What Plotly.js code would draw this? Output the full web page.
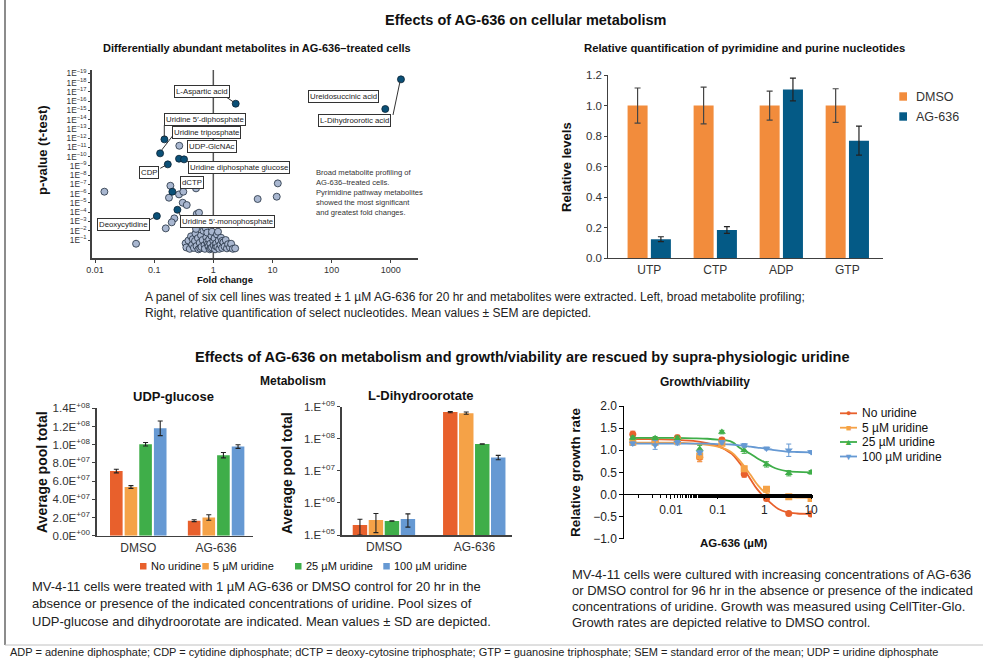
<!DOCTYPE html>
<html><head><meta charset="utf-8">
<script src="https://cdn.plot.ly/plotly-3.0.1.min.js"></script>
<style>html,body{margin:0;padding:0;background:#fff;}#chart{width:983px;height:658px;}</style>
</head><body><div id="chart"></div>
<script>
// ---------- Volcano plot data ----------
const hlNames = ["L-Aspartic acid","Ureidosuccinic acid","L-Dihydroorotic acid","Uridine 5′-diphosphate","Uridine triposphate","Uridine diphosphate glucose a","Uridine diphosphate glucose b","CDP","dCTP","Deoxycytidine","Uridine 5′-monophosphate"];
const hlFC   = [2.39, 807, 1486, 0.149, 0.126, 0.263, 0.320, 0.170, 0.203, 0.111, 0.247];
const hlNLP  = [15.72, 15.15, 18.35, 11.87, 10.36, 9.78, 9.71, 9.17, 6.22, 3.59, 4.27];
const otherFC  = [0.266,0.0144,0.0494,0.157,0.188,0.178,0.263,0.311,0.304,0.355,0.524,0.573,0.51,0.219,0.198,5.62,11.8,12.3,
  0.34,0.35,0.38,0.40,0.42,0.44,0.45,0.47,0.49,0.50,0.51,0.52,0.55,0.56,0.59,0.60,0.62,0.63,0.66,0.68,0.71,0.72,0.74,0.76,0.78,0.79,0.81,0.83,0.85,0.87,0.89,0.91,0.93,0.95,0.95,1.0,1.02,1.05,1.07,1.10,1.12,1.15,1.17,1.20,1.23,1.26,1.32,1.35,1.41,1.41,1.48,1.55,1.62,1.70,1.78,1.91,2.0,2.14,2.34];
const otherNLP = [11.18,6.22,0.60,2.26,6.86,5.57,5.93,6.22,5.03,4.78,3.81,3.95,6.58,3.34,2.91,5.43,5.68,7.12,
  0.65,0.2,0.95,0.05,1.4,0.5,1.1,0.15,0.9,1.7,2.2,0.35,1.2,0.0,0.7,0.1,1.5,0.25,1.0,2.0,0.45,0.05,2.3,1.3,0.8,1.8,0.55,0.3,1.05,0.0,0.6,0.1,1.45,0.2,1.9,0.9,0.4,1.2,0.0,0.35,0.65,1.6,0.25,1.9,0.95,0.05,0.5,1.25,0.15,0.9,0.75,0.3,1.0,0.1,0.55,0.2,0.6,0.05,0.1];
const volcYTicks = [1,2,3,4,5,6,7,8,9,10,11,12,13,14,15,16,17,18,19];
const volcXTicks = [0.01,0.1,1,10,100,1000];

// ---------- Nucleotide bars ----------
const nucCats = ["UTP","CTP","ADP","GTP"];
const dmsoLevels = [1.0,1.0,1.0,1.0];
const dmsoSEM    = [0.115,0.12,0.095,0.11];
const agLevels   = [0.125,0.185,1.105,0.77];
const agSEM      = [0.016,0.022,0.075,0.095];

// ---------- Metabolism (uridine rescue) ----------
const treatCats = ["DMSO","AG-636"];
const uridineNames = ["No uridine","5 µM uridine","25 µM uridine","100 µM uridine"];
const udpGlc    = [[7.1e7,1.65e7],[5.35e7,2.0e7],[1.005e8,8.85e7],[1.18e8,9.8e7]];
const udpGlcSD  = [[0.2e7,0.1e7],[0.15e7,0.3e7],[0.2e7,0.3e7],[0.8e7,0.2e7]];
const dho       = [[2.05e5,6.8e8],[2.94e5,6.3e8],[2.73e5,6.85e7],[3.16e5,2.63e7]];
const dhoSD     = [[1.05e5,0.3e8],[1.75e5,0.5e8],[0.05e5,0.1e7],[1.4e5,0.4e7]];

// ---------- Growth / viability ----------
const doseUM = [0.00152,0.00457,0.0137,0.0412,0.123,0.370,1.11,3.33,10];
const growth = [
  [1.36,1.21,1.28,0.84,1.23,0.46,-0.09,-0.43,-0.44],
  [1.18,1.18,1.21,0.87,1.16,0.58,0.12,-0.05,-0.09],
  [1.28,1.27,1.27,1.03,1.41,1.00,0.68,0.48,0.50],
  [1.15,1.12,1.17,0.95,1.18,1.11,1.04,1.00,0.96]];
const growthErr = [
  [0.07,0.07,0.06,0.10,0.05,0.07,0.05,0.02,0.05],
  [0.05,0.05,0.05,0.12,0.05,0.06,0.05,0.03,0.03],
  [0.04,0.04,0.05,0.08,0.04,0.07,0.06,0.06,0.04],
  [0.04,0.10,0.05,0.05,0.04,0.04,0.03,0.14,0.03]];
const fitDose = [0.0015,0.003,0.01,0.03,0.06,0.1,0.2,0.3,0.5,0.7,1,1.5,2,3,5,10];
const fitCurves = [
  [1.25,1.25,1.24,1.21,1.16,1.10,0.92,0.70,0.35,0.12,-0.06,-0.23,-0.33,-0.40,-0.43,-0.44],
  [1.17,1.17,1.17,1.15,1.12,1.08,0.95,0.76,0.45,0.23,0.06,-0.03,-0.05,-0.06,-0.07,-0.07],
  [1.28,1.28,1.28,1.27,1.26,1.24,1.19,1.05,0.92,0.82,0.73,0.62,0.57,0.53,0.51,0.50],
  [1.15,1.15,1.15,1.15,1.15,1.14,1.13,1.11,1.08,1.06,1.04,1.01,0.99,0.97,0.96,0.95]];

// ---------- styling ----------
const W = 983, H = 658;
const F = "Arial, 'Liberation Sans', sans-serif";
const FN = "'Liberation Sans Narrow', 'Arial Narrow', Arial, 'Liberation Sans', sans-serif";
const uriColors = ["#e8602c","#f5a247","#3fae49","#6699d3"];
const growthSymbols = ["circle","square","triangle-up","triangle-down"];
const px = x => x / W, py = y => 1 - y / H;

const traces = [];
// volcano
traces.push({type:'scatter', mode:'markers', x:otherFC, y:otherNLP, xaxis:'x', yaxis:'y', showlegend:false, hoverinfo:'skip',
  marker:{size:7, color:'#a9b7d0', line:{color:'#1f2d3d', width:0.8}}});
traces.push({type:'scatter', mode:'markers', x:hlFC, y:hlNLP, text:hlNames, xaxis:'x', yaxis:'y', showlegend:false,
  marker:{size:7, color:'#0b5077', line:{color:'#0a2233', width:0.8}}});
// nucleotides
traces.push({type:'bar', name:'DMSO', x:nucCats, y:dmsoLevels, xaxis:'x2', yaxis:'y2', width:0.303, offset:-0.328,
  marker:{color:'#f28c3c'}, error_y:{type:'data', array:dmsoSEM, color:'#444', thickness:1.2, width:3}, showlegend:false});
traces.push({type:'bar', name:'AG-636', x:nucCats, y:agLevels, xaxis:'x2', yaxis:'y2', width:0.303, offset:0.025,
  marker:{color:'#045a86'}, error_y:{type:'data', array:agSEM, color:'#222', thickness:1.2, width:3}, showlegend:false});
// UDP-glucose & DHO
const off3 = [-0.363,-0.175,0.013,0.201];
const off4 = [-0.347,-0.170,0.007,0.184];
for (let i=0;i<4;i++){
  traces.push({type:'bar', name:uridineNames[i], x:treatCats, y:udpGlc[i], xaxis:'x3', yaxis:'y3', width:0.162, offset:off3[i],
    marker:{color:uriColors[i]}, error_y:{type:'data', array:udpGlcSD[i], color:'#222', thickness:1.1, width:2.5}, showlegend:false});
  traces.push({type:'bar', name:uridineNames[i], x:treatCats, y:dho[i], xaxis:'x4', yaxis:'y4', width:0.16, offset:off4[i],
    marker:{color:uriColors[i]}, error_y:{type:'data', array:dhoSD[i], color:'#222', thickness:1.1, width:2.5}, showlegend:false});
}
// growth
for (let i=0;i<4;i++){
  traces.push({type:'scatter', mode:'lines', x:fitDose, y:fitCurves[i], xaxis:'x5', yaxis:'y5', line:{color:uriColors[i], width:1.8, shape:'spline'}, showlegend:false, hoverinfo:'skip'});
}
for (let i=0;i<4;i++){
  traces.push({type:'scatter', mode:'markers', name:uridineNames[i], x:doseUM, y:growth[i], xaxis:'x5', yaxis:'y5',
    marker:{color:uriColors[i], size:7, symbol:growthSymbols[i]},
    error_y:{type:'data', array:growthErr[i], color:uriColors[i], thickness:1, width:2.5}, showlegend:false});
}

const axBase = {showgrid:false, zeroline:false, showline:true, linecolor:'#404040', linewidth:1, ticks:'outside', ticklen:3, tickcolor:'#404040', tickfont:{family:F, size:11, color:'#333'}};
const sup = (m, e) => m + 'E<sup>' + e + '</sup>';

const layout = {
  width:W, height:H, margin:{l:0,r:0,t:0,b:0}, paper_bgcolor:'#fff', plot_bgcolor:'rgba(0,0,0,0)',
  barmode:'overlay', showlegend:false, font:{family:F},
  xaxis: Object.assign({}, axBase, {type:'log', domain:[px(91.7), px(418)], range:[-2.056, 3.46], anchor:'y',
    tickvals:volcXTicks, ticktext:volcXTicks.map(String), tickfont:{family:F,size:9,color:'#333'}, linewidth:1.5}),
  yaxis: Object.assign({}, axBase, {domain:[py(258), py(70)], range:[-0.94, 19.36], anchor:'x',
    tickvals:volcYTicks, ticktext:volcYTicks.map(v => sup('1', '−' + v)), tickfont:{family:F,size:8.3,color:'#333'}, linewidth:1.5, ticklen:2}),
  xaxis2: Object.assign({}, axBase, {type:'category', domain:[px(608.3), px(883.3)], range:[-0.62, 3.545], anchor:'y2', ticks:'', tickfont:{family:F,size:12,color:'#333'}}),
  yaxis2: Object.assign({}, axBase, {domain:[py(258.3), py(75)], range:[0, 1.2], dtick:0.2, tickformat:'.1f', anchor:'x2', tickfont:{family:F,size:11.5,color:'#333'}}),
  xaxis3: Object.assign({}, axBase, {type:'category', domain:[px(96.7), px(253)], range:[-0.534, 1.474], anchor:'y3', ticks:'', linewidth:1.5, tickfont:{family:F,size:12,color:'#333'}}),
  yaxis3: Object.assign({}, axBase, {domain:[py(535.7), py(408.3)], range:[0, 1.4e8], anchor:'x3', linewidth:1.5,
    tickvals:[0,2e7,4e7,6e7,8e7,1e8,1.2e8,1.4e8],
    ticktext:[sup('0.0','+00'),sup('2.0','+07'),sup('4.0','+07'),sup('6.0','+07'),sup('8.0','+07'),sup('1.0','+08'),sup('1.2','+08'),sup('1.4','+08')],
    tickfont:{family:F,size:11.5,color:'#333'}}),
  xaxis4: Object.assign({}, axBase, {type:'category', domain:[px(341.7), px(511.7)], range:[-0.469, 1.413], anchor:'y4', ticks:'', linewidth:1.5, tickfont:{family:F,size:12,color:'#333'}}),
  yaxis4: Object.assign({}, axBase, {type:'log', domain:[py(535), py(406.7)], range:[5, 9], anchor:'x4', linewidth:1.5,
    tickvals:[1e5,1e6,1e7,1e8,1e9], ticktext:['+05','+06','+07','+08','+09'].map(e => sup('1.', e)),
    tickfont:{family:F,size:11.5,color:'#333'}}),
  xaxis5: Object.assign({}, axBase, {type:'log', domain:[px(624.3), px(812)], range:[-3, 1.02], anchor:'free', position:py(494.4),
    linecolor:'#000', tickcolor:'#000', tickvals:[0.01,0.1,1,10], ticktext:['0.01','0.1','1','10'], ticklen:4,
    minor:{ticks:'outside', ticklen:2.5, tickcolor:'#000', showgrid:false}, tickfont:{family:F,size:12,color:'#222'}}),
  yaxis5: Object.assign({}, axBase, {domain:[py(538.7), py(406)], range:[-1, 2], dtick:0.5, tickformat:'.1f', anchor:'x5',
    linecolor:'#000', tickcolor:'#000', ticklen:4, tickfont:{family:F,size:12,color:'#222'}}),
  shapes:[], annotations:[]
};

// vertical reference line at fold change = 1
layout.shapes.push({type:'line', xref:'x', yref:'y domain', x0:1, x1:1, y0:0, y1:1, line:{color:'#555', width:1.5}, layer:'below'});
// frame
layout.shapes.push({type:'line', xref:'paper', yref:'paper', x0:px(5), x1:px(5), y0:py(0), y1:py(645), line:{color:'#8c8c8c', width:2}});
layout.shapes.push({type:'line', xref:'paper', yref:'paper', x0:px(5), x1:px(983), y0:py(645), y1:py(645), line:{color:'#c0c0c0', width:1}});

// leader lines (pixel positions)
const leaders = [[225.7,96.7,233.5,102],[393,115,400,81.5],[164.3,125.3,164.3,137],[173.3,135,161.7,150],
  [186.7,160.7,191.7,164.3],[160.3,168.3,165.7,165.3],[149.3,220,154,217.5],[181,217,178.5,212]];
leaders.forEach(l => layout.shapes.push({type:'line', xref:'paper', yref:'paper', x0:px(l[0]), y0:py(l[1]), x1:px(l[2]), y1:py(l[3]), line:{color:'#333', width:1}}));

function A(text, x, y, size, opts){
  return Object.assign({text:text, x:px(x), y:py(y), xref:'paper', yref:'paper', showarrow:false, xanchor:'center', yanchor:'middle',
    font:{family:F, size:size, color:'#111'}}, opts || {});
}
const ann = layout.annotations;
ann.push(A('<b>Effects of AG-636 on cellular metabolism</b>', 525, 20, 14.5));
ann.push(A('<b>Differentially abundant metabolites in AG-636–treated cells</b>', 257, 48, 11));
ann.push(A('<b>Relative quantification of pyrimidine and purine nucleotides</b>', 744, 48, 11.3));
ann.push(A('A panel of six cell lines was treated ± 1 µM AG-636 for 20 hr and metabolites were extracted. Left, broad metabolite profiling;', 143, 297, 12, {xanchor:'left', font:{family:F,size:12,color:'#222'}}));
ann.push(A('Right, relative quantification of select nucleotides. Mean values ± SEM are depicted.', 143, 313, 12, {xanchor:'left', font:{family:F,size:12,color:'#222'}}));
ann.push(A('<b>Effects of AG-636 on metabolism and growth/viability are rescued by supra-physiologic uridine</b>', 522, 357, 14.5));
ann.push(A('<b>Metabolism</b>', 293, 381, 12));
ann.push(A('<b>Growth/viability</b>', 705, 382, 12));
ann.push(A('<b>UDP-glucose</b>', 173, 396, 13));
ann.push(A('<b>L-Dihydroorotate</b>', 420, 395, 13));
// axis titles
ann.push(A('<b>p-value (t-test)</b>', 42, 150, 13, {textangle:-90}));
ann.push(A('<b>Fold change</b>', 225, 279, 9.5));
ann.push(A('<b>Relative levels</b>', 566, 167, 13, {textangle:-90}));
ann.push(A('<b>Average pool total</b>', 42, 472, 14, {textangle:-90}));
ann.push(A('<b>Average pool total</b>', 287, 473, 14, {textangle:-90}));
ann.push(A('<b>Relative growth rate</b>', 575, 472, 13.5, {textangle:-90}));
ann.push(A('<b>AG-636 (µM)</b>', 733, 543, 11.5));
// volcano label boxes
const boxes = [['L-Aspartic acid',201.7,91.3],['Ureidosuccinic acid',343.5,96.7],['L-Dihydroorotic acid',354,120.5],
  ['Uridine 5′-diphosphate',205,119.7],['Uridine triposphate',206.5,132.7],['UDP-GlcNAc',212,146.5],
  ['Uridine diphosphate glucose',239,167.5],['CDP',149.3,172.3],['dCTP',192,182.7],['Deoxycytidine',123.8,225],
  ['Uridine 5′-monophosphate',227,221.3]];
boxes.forEach(b => ann.push(A(b[0], b[1], b[2], 7.8, {bgcolor:'#fff', bordercolor:'#333333', borderwidth:1, borderpad:1, font:{family:F,size:7.8,color:'#222'}})));
ann.push(A('Broad metabolite profiling of<br>AG-636–treated cells.<br>Pyrimidine pathway metabolites<br>showed the most significant<br>and greatest fold changes.', 314, 166, 7.6,
  {xanchor:'left', yanchor:'top', align:'left', font:{family:F,size:7.6,color:'#333'}}));
// nucleotide legend
const nucLeg = [['DMSO','#f28c3c',96.5],['AG-636','#045a86',116.5]];
nucLeg.forEach(l => {
  layout.shapes.push({type:'rect', xref:'paper', yref:'paper', x0:px(899.3), x1:px(907), y0:py(l[2]+4.2), y1:py(l[2]-4.2), fillcolor:l[1], line:{width:0}});
  ann.push(A(l[0], 914, l[2], 12.5, {xanchor:'left', font:{family:F,size:12.5,color:'#333'}}));
});
// metabolism legend
const metLegX = [140, 202.3, 295, 383.3];
uridineNames.forEach((n,i) => {
  layout.shapes.push({type:'rect', xref:'paper', yref:'paper', x0:px(metLegX[i]), x1:px(metLegX[i]+6.5), y0:py(569.5), y1:py(563), fillcolor:uriColors[i], line:{width:0}});
  ann.push(A(n, metLegX[i]+8.5, 566, 11, {xanchor:'left', font:{family:F,size:11,color:'#111'}}));
});
// growth legend
const gLegY = [413.3, 427.7, 442, 456.5];
const gSym = ['●','■','▲','▼'];
uridineNames.forEach((n,i) => {
  layout.shapes.push({type:'line', xref:'paper', yref:'paper', x0:px(840), x1:px(857), y0:py(gLegY[i]), y1:py(gLegY[i]), line:{color:uriColors[i], width:1.8}});
  ann.push(A(gSym[i], 848.5, gLegY[i], 9, {font:{family:F,size:9,color:uriColors[i]}}));
  ann.push(A(n, 860, gLegY[i], 12, {xanchor:'left', font:{family:F,size:12,color:'#111'}}));
});
// bottom captions
const capL = ['MV-4-11 cells were treated with 1 µM AG-636 or DMSO control for 20 hr in the',
  'absence or presence of the indicated concentrations of uridine. Pool sizes of',
  'UDP-glucose and dihydroorotate are indicated. Mean values ± SD are depicted.'];
capL.forEach((t,i) => ann.push(A(t, 30, 586 + i*17.5, 13, {xanchor:'left', font:{family:FN,size:13,color:'#222'}})));
const capR = ['MV-4-11 cells were cultured with increasing concentrations of AG-636',
  'or DMSO control for 96 hr in the absence or presence of the indicated',
  'concentrations of uridine. Growth was measured using CellTiter-Glo.',
  'Growth rates are depicted relative to DMSO control.'];
capR.forEach((t,i) => ann.push(A(t, 570, 574 + i*16.3, 13, {xanchor:'left', font:{family:FN,size:13,color:'#222'}})));
ann.push(A('ADP = adenine diphosphate; CDP = cytidine diphosphate; dCTP = deoxy-cytosine triphosphate; GTP = guanosine triphosphate; SEM = standard error of the mean; UDP = uridine diphosphate',
  8, 652, 11, {xanchor:'left', font:{family:FN,size:11,color:'#222'}}));

Plotly.newPlot('chart', traces, layout, {displayModeBar:false, staticPlot:true});
</script></body></html>
